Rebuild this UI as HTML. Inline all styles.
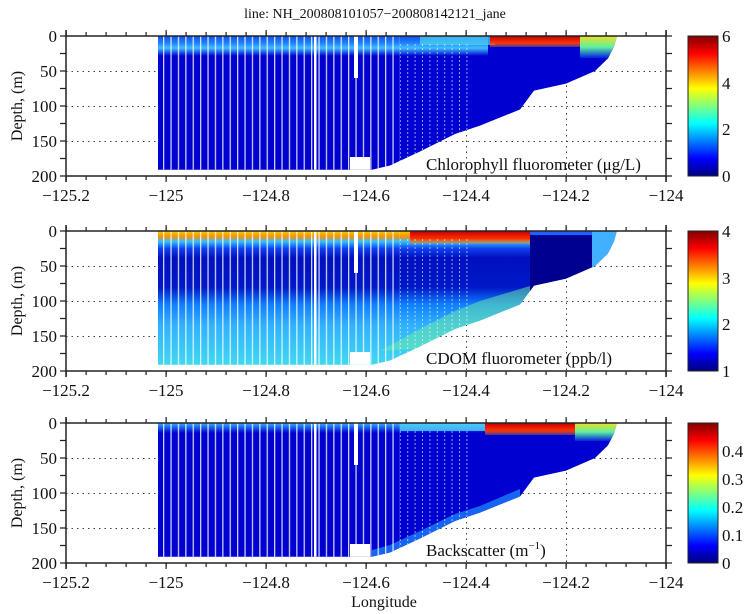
<!DOCTYPE html>
<html><head><meta charset="utf-8"><style>
html,body{margin:0;padding:0;background:#fff;}
svg{display:block;}
text{font-family:"Liberation Serif",serif;fill:#111;}
</style></head><body>
<svg width="750" height="614" xmlns="http://www.w3.org/2000/svg" xmlns:xlink="http://www.w3.org/1999/xlink">
<defs>
<clipPath id="bath"><polygon points="158,0 617,0 614,10.5 608,22.4 595,35 566,47.6 534,54.6 520,73.5 480,89.6 455,98 420,115.5 390,129.5 372,133.7 158,133.7"/></clipPath>
<pattern id="gp" x="163" y="0" width="7.4" height="10" patternUnits="userSpaceOnUse"><rect x="0" y="0" width="1.3" height="10" fill="#fff" opacity="0.8"/></pattern>
<pattern id="gp2" x="163" y="0" width="7.4" height="4" patternUnits="userSpaceOnUse"><rect x="0" y="0" width="1" height="2" fill="#fff" opacity="0.6"/></pattern>
<linearGradient id="jet" x1="0" y1="0" x2="0" y2="1">
<stop offset="0" stop-color="#800000"/><stop offset="0.125" stop-color="#ff0000"/><stop offset="0.375" stop-color="#ffff00"/><stop offset="0.625" stop-color="#00ffff"/><stop offset="0.875" stop-color="#0000ff"/><stop offset="1" stop-color="#000080"/></linearGradient>
<linearGradient id="s1" x1="0" y1="0" x2="0" y2="1">
<stop offset="0" stop-color="#1050f0"/><stop offset="0.35" stop-color="#2080ff"/><stop offset="0.6" stop-color="#40c0ff"/><stop offset="1" stop-color="#0000d0"/></linearGradient>
<linearGradient id="r1" x1="0" y1="0" x2="0" y2="1">
<stop offset="0" stop-color="#c00000"/><stop offset="0.6" stop-color="#ff3000"/><stop offset="1" stop-color="#ff9000" stop-opacity="0.3"/></linearGradient>
<linearGradient id="y1" x1="0" y1="0" x2="0" y2="1">
<stop offset="0" stop-color="#f0e020"/><stop offset="0.5" stop-color="#60f0a0"/><stop offset="1" stop-color="#0020e0"/></linearGradient>
<linearGradient id="c2" x1="0" y1="0" x2="0" y2="1">
<stop offset="0" stop-color="#f0d000"/><stop offset="0.04" stop-color="#ff9000"/><stop offset="0.08" stop-color="#30c0ff"/><stop offset="0.13" stop-color="#1040f0"/><stop offset="0.2" stop-color="#0010c0"/><stop offset="0.42" stop-color="#0018c8"/><stop offset="0.55" stop-color="#1080ff"/><stop offset="0.7" stop-color="#30b0ff"/><stop offset="1" stop-color="#40d8f0"/></linearGradient>
<linearGradient id="s3" x1="0" y1="0" x2="0" y2="1">
<stop offset="0" stop-color="#30b0ff"/><stop offset="1" stop-color="#0000d0"/></linearGradient>
<g id="axes">
<line x1="66" y1="140" x2="666" y2="140" stroke="#222" stroke-width="1.5"/>
<line x1="66" y1="0" x2="666" y2="0" stroke="#222" stroke-width="1.5"/>
<line x1="66" y1="-6" x2="66" y2="146" stroke="#222" stroke-width="1.5"/>
<line x1="666" y1="-6" x2="666" y2="146" stroke="#222" stroke-width="1.5"/>
<line x1="65.5" y1="142" x2="668" y2="142" stroke="#222" stroke-width="4" stroke-dasharray="1.2 18.8"/>
<line x1="65.5" y1="143" x2="668" y2="143" stroke="#222" stroke-width="6" stroke-dasharray="1.2 98.8"/>
<line x1="65.5" y1="-2" x2="668" y2="-2" stroke="#222" stroke-width="4" stroke-dasharray="1.2 18.8"/>
<line x1="65.5" y1="-3" x2="668" y2="-3" stroke="#222" stroke-width="6" stroke-dasharray="1.2 98.8"/>
<line x1="63" y1="-0.6" x2="63" y2="142" stroke="#222" stroke-width="6" stroke-dasharray="1.2 16.3"/>
<line x1="669" y1="-0.6" x2="669" y2="142" stroke="#222" stroke-width="6" stroke-dasharray="1.2 16.3"/>
<g font-size="17" text-anchor="end">
<text x="57" y="6">0</text><text x="57" y="41">50</text><text x="57" y="76">100</text><text x="57" y="111">150</text><text x="57" y="146">200</text></g>
<g font-size="17" text-anchor="middle">
<text x="66" y="165">−125.2</text><text x="166" y="165">−125</text><text x="266" y="165">−124.8</text><text x="366" y="165">−124.6</text><text x="466" y="165">−124.4</text><text x="566" y="165">−124.2</text><text x="666" y="165">−124</text></g>
<text transform="translate(22,70) rotate(-90)" font-size="16" text-anchor="middle">Depth, (m)</text>
<rect x="688" y="0" width="30" height="140" fill="url(#jet)" stroke="#222"/>
</g>
<g id="grid">
<line x1="66" y1="35.5" x2="666" y2="35.5" stroke="#444" stroke-dasharray="1.5 4"/>
<line x1="66" y1="70.5" x2="666" y2="70.5" stroke="#444" stroke-dasharray="1.5 4"/>
<line x1="66" y1="105.5" x2="666" y2="105.5" stroke="#444" stroke-dasharray="1.5 4"/>
<line x1="466.5" y1="0" x2="466.5" y2="140" stroke="#444" stroke-dasharray="1.5 4"/>
<line x1="566.5" y1="0" x2="566.5" y2="140" stroke="#444" stroke-dasharray="1.5 4"/>
</g>
<g id="gaps">
<rect x="158" y="0" width="242" height="134" fill="url(#gp)"/>
<rect x="400" y="8" width="70" height="126" fill="url(#gp2)"/>
<rect x="314" y="0" width="2.5" height="134" fill="#fff"/>
<rect x="354" y="0" width="4" height="42" fill="#fff"/>
<rect x="350" y="121" width="20" height="14" fill="#fff"/>
</g>
</defs>

<text x="375" y="18" font-size="14" text-anchor="middle">line: NH_200808101057−200808142121_jane</text>

<!-- panel 1 -->
<g transform="translate(0,36)">
<use xlink:href="#grid"/>
<g clip-path="url(#bath)">
<rect x="158" y="0" width="460" height="134" fill="#0000d0"/>
<rect x="158" y="0" width="330" height="20" fill="url(#s1)"/>
<rect x="420" y="0" width="75" height="9" fill="#50d8f0" opacity="0.7"/>
<rect x="490" y="0" width="90" height="11" fill="url(#r1)"/>
<rect x="580" y="0" width="40" height="22" fill="url(#y1)"/>
<use xlink:href="#gaps"/>
</g>
<use xlink:href="#axes"/>
<g font-size="17"><text x="722" y="146">0</text><text x="722" y="99">2</text><text x="722" y="53">4</text><text x="722" y="6">6</text></g>
<text x="426" y="134" font-size="17">Chlorophyll fluorometer (μg/L)</text>
</g>

<!-- panel 2 -->
<g transform="translate(0,231)">
<use xlink:href="#grid"/>
<g clip-path="url(#bath)">
<rect x="158" y="0" width="460" height="134" fill="url(#c2)"/>
<polygon points="420,118 455,100 480,92 520,76 530,70 530,55 480,70 455,80 420,98 380,120" fill="#70f0a0" opacity="0.5"/>
<rect x="410" y="0" width="120" height="13" fill="url(#r1)"/>
<rect x="530" y="0" width="62" height="134" fill="#000090"/>
<rect x="530" y="0" width="62" height="4" fill="#2060ff"/>
<rect x="592" y="0" width="26" height="134" fill="#40b0ff"/>
<use xlink:href="#gaps"/>
</g>
<use xlink:href="#axes"/>
<g font-size="17"><text x="722" y="146">1</text><text x="722" y="99">2</text><text x="722" y="53">3</text><text x="722" y="6">4</text></g>
<text x="426" y="133" font-size="17">CDOM fluorometer (ppb/l)</text>
</g>

<!-- panel 3 -->
<g transform="translate(0,423)">
<use xlink:href="#grid"/>
<g clip-path="url(#bath)">
<rect x="158" y="0" width="460" height="134" fill="#0000d0"/>
<rect x="158" y="0" width="330" height="10" fill="url(#s3)"/>
<rect x="400" y="0" width="85" height="8" fill="#50d0ff" opacity="0.8"/>
<polygon points="372,134 390,130 420,116 455,98.5 480,90 520,74 520,66 480,83 455,91 420,108 390,122 372,127" fill="#2090ff" opacity="0.7"/>
<rect x="485" y="0" width="90" height="12" fill="url(#r1)"/>
<rect x="575" y="0" width="45" height="18" fill="url(#y1)"/>
<use xlink:href="#gaps"/>
</g>
<use xlink:href="#axes"/>
<g font-size="17"><text x="722" y="146">0</text><text x="722" y="118">0.1</text><text x="722" y="90">0.2</text><text x="722" y="62">0.3</text><text x="722" y="34">0.4</text></g>
<text x="426" y="133" font-size="17">Backscatter (m<tspan dy="-7" font-size="11">−1</tspan><tspan dy="7">)</tspan></text>
</g>

<text x="384" y="607" font-size="16" text-anchor="middle">Longitude</text>
</svg>
</body></html>
